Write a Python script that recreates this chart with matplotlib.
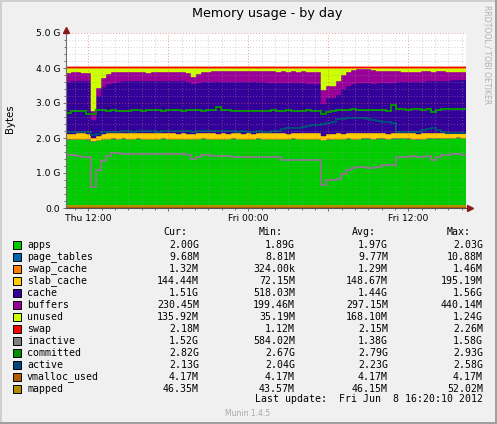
import numpy as np
import pandas as pd
import matplotlib
matplotlib.use("Agg")
import matplotlib.pyplot as plt
import matplotlib.dates as mdates
from matplotlib.ticker import MultipleLocator, FuncFormatter
from matplotlib.patches import Rectangle
from matplotlib.lines import Line2D

W, H = 497, 424

# 80 consolidated samples of 22.5 min, Thu 10:20 -> Fri 16:20 (values in G)
start = pd.Timestamp("2012-06-07 10:20:10")
n_bins = 80

apps = [1.95, 1.96, 1.97, 1.96, 1.95, 1.90, 1.94, 1.96, 1.97, 1.98,
        1.97, 1.98, 1.97, 1.97, 1.98, 1.97, 1.96, 1.97, 1.97, 1.98,
        1.97, 1.97, 1.96, 1.97, 1.97, 1.96, 1.97, 1.98, 1.97, 1.97,
        1.96, 1.97, 1.97, 1.98, 1.97, 1.96, 1.97, 1.97, 1.98, 1.97,
        1.96, 1.97, 1.96, 1.97, 1.97, 1.98, 1.97, 1.96, 1.97, 1.97,
        1.96, 1.93, 1.95, 1.96, 1.97, 1.97, 1.98, 1.97, 1.97, 1.98,
        1.98, 1.97, 1.98, 1.98, 1.97, 1.98, 1.98, 1.99, 1.98, 1.96,
        1.95, 1.97, 1.98, 1.99, 1.98, 1.99, 2.00, 2.00, 2.01, 2.00]
page_tables = [0.0095] * n_bins
swap_cache = [0.0013] * n_bins
slab_cache = [0.15, 0.14, 0.15, 0.16, 0.15, 0.08, 0.12, 0.14, 0.15, 0.15,
              0.15, 0.15, 0.16, 0.15, 0.14, 0.15, 0.16, 0.15, 0.15, 0.14,
              0.15, 0.16, 0.15, 0.15, 0.14, 0.15, 0.15, 0.14, 0.15, 0.16,
              0.15, 0.15, 0.14, 0.15, 0.16, 0.15, 0.15, 0.14, 0.15, 0.15,
              0.16, 0.15, 0.16, 0.15, 0.14, 0.15, 0.15, 0.16, 0.15, 0.15,
              0.16, 0.12, 0.14, 0.15, 0.15, 0.14, 0.15, 0.15, 0.16, 0.15,
              0.15, 0.16, 0.15, 0.15, 0.14, 0.15, 0.16, 0.15, 0.15, 0.17,
              0.16, 0.15, 0.15, 0.14, 0.15, 0.15, 0.14, 0.15, 0.14, 0.14]
cache = [1.49, 1.51, 1.50, 1.50, 1.51, 0.52, 1.13, 1.34, 1.40, 1.44,
         1.48, 1.49, 1.50, 1.49, 1.50, 1.51, 1.49, 1.50, 1.50, 1.49,
         1.50, 1.48, 1.51, 1.49, 1.49, 1.42, 1.45, 1.48, 1.47, 1.47,
         1.48, 1.48, 1.48, 1.47, 1.46, 1.47, 1.47, 1.47, 1.46, 1.46,
         1.45, 1.45, 1.44, 1.44, 1.44, 1.43, 1.43, 1.43, 1.42, 1.42,
         1.42, 0.92, 1.04, 1.03, 1.09, 1.28, 1.34, 1.40, 1.42, 1.42,
         1.42, 1.41, 1.42, 1.43, 1.45, 1.44, 1.45, 1.46, 1.47, 1.47,
         1.48, 1.48, 1.48, 1.48, 1.49, 1.48, 1.49, 1.49, 1.50, 1.51]
buffers = [0.27, 0.26, 0.25, 0.24, 0.24, 0.27, 0.22, 0.27, 0.31, 0.30,
           0.28, 0.26, 0.24, 0.26, 0.26, 0.25, 0.25, 0.25, 0.26, 0.26,
           0.26, 0.26, 0.26, 0.26, 0.26, 0.21, 0.24, 0.27, 0.29, 0.29,
           0.30, 0.30, 0.30, 0.30, 0.32, 0.32, 0.32, 0.32, 0.32, 0.32,
           0.32, 0.32, 0.32, 0.33, 0.33, 0.33, 0.33, 0.34, 0.34, 0.34,
           0.33, 0.40, 0.34, 0.34, 0.40, 0.40, 0.41, 0.41, 0.41, 0.41,
           0.40, 0.39, 0.36, 0.34, 0.34, 0.32, 0.30, 0.28, 0.28, 0.27,
           0.29, 0.29, 0.28, 0.27, 0.27, 0.27, 0.25, 0.24, 0.23, 0.23]
unused = [0.15, 0.14, 0.14, 0.15, 0.16, 1.24, 0.60, 0.30, 0.18, 0.14,
          0.13, 0.13, 0.14, 0.14, 0.13, 0.13, 0.15, 0.14, 0.13, 0.14,
          0.13, 0.14, 0.13, 0.14, 0.15, 0.27, 0.20, 0.14, 0.13, 0.12,
          0.12, 0.11, 0.12, 0.11, 0.10, 0.11, 0.10, 0.11, 0.10, 0.11,
          0.12, 0.12, 0.13, 0.12, 0.13, 0.12, 0.13, 0.12, 0.13, 0.13,
          0.14, 0.64, 0.54, 0.53, 0.40, 0.22, 0.13, 0.08, 0.05, 0.05,
          0.06, 0.08, 0.10, 0.11, 0.11, 0.12, 0.12, 0.13, 0.13, 0.14,
          0.13, 0.12, 0.12, 0.13, 0.12, 0.12, 0.13, 0.13, 0.13, 0.13]
swap = [0.0021] * n_bins
inactive = [1.51, 1.51, 1.50, 1.47, 1.47, 0.59, 1.10, 1.33, 1.50, 1.57,
            1.56, 1.54, 1.53, 1.53, 1.54, 1.53, 1.53, 1.53, 1.54, 1.53,
            1.53, 1.53, 1.53, 1.53, 1.52, 1.40, 1.47, 1.51, 1.51, 1.49,
            1.49, 1.48, 1.48, 1.47, 1.47, 1.47, 1.47, 1.47, 1.47, 1.47,
            1.47, 1.47, 1.47, 1.37, 1.37, 1.37, 1.37, 1.37, 1.38, 1.38,
            1.37, 0.66, 0.80, 0.80, 0.82, 0.98, 1.10, 1.15, 1.18, 1.17,
            1.15, 1.15, 1.16, 1.23, 1.23, 1.23, 1.47, 1.47, 1.47, 1.48,
            1.47, 1.47, 1.48, 1.38, 1.45, 1.51, 1.52, 1.53, 1.53, 1.52]
committed = [2.72, 2.76, 2.77, 2.78, 2.69, 2.68, 2.79, 2.80, 2.78, 2.79,
             2.78, 2.77, 2.78, 2.80, 2.79, 2.78, 2.79, 2.81, 2.79, 2.78,
             2.79, 2.80, 2.79, 2.78, 2.79, 2.80, 2.79, 2.78, 2.79, 2.80,
             2.88, 2.80, 2.79, 2.76, 2.77, 2.76, 2.77, 2.78, 2.76, 2.78,
             2.78, 2.79, 2.78, 2.78, 2.79, 2.78, 2.77, 2.78, 2.79, 2.78,
             2.77, 2.70, 2.74, 2.78, 2.79, 2.79, 2.80, 2.82, 2.81, 2.80,
             2.80, 2.81, 2.80, 2.79, 2.76, 2.93, 2.83, 2.82, 2.81, 2.82,
             2.82, 2.81, 2.82, 2.75, 2.80, 2.82, 2.83, 2.82, 2.82, 2.82]
active = [2.17, 2.18, 2.18, 2.17, 2.16, 2.08, 2.12, 2.16, 2.17, 2.18,
          2.18, 2.19, 2.19, 2.18, 2.19, 2.20, 2.19, 2.19, 2.18, 2.19,
          2.20, 2.19, 2.19, 2.20, 2.19, 2.18, 2.19, 2.19, 2.20, 2.19,
          2.19, 2.20, 2.19, 2.19, 2.18, 2.19, 2.18, 2.18, 2.19, 2.18,
          2.18, 2.19, 2.20, 2.25, 2.28, 2.29, 2.30, 2.31, 2.33, 2.36,
          2.38, 2.40, 2.42, 2.47, 2.53, 2.55, 2.56, 2.57, 2.58, 2.57,
          2.55, 2.52, 2.50, 2.47, 2.45, 2.42, 2.18, 2.17, 2.18, 2.16,
          2.18, 2.22, 2.27, 2.28, 2.22, 2.16, 2.15, 2.14, 2.15, 2.13]
vmalloc_used = [0.0041] * n_bins
mapped = [0.045] * n_bins

names = ["apps", "page_tables", "swap_cache", "slab_cache", "cache", "buffers",
         "unused", "swap", "inactive", "committed", "active", "vmalloc_used", "mapped"]
colors = ["#00CC00", "#0066B3", "#FF8000", "#FFCC00", "#330099", "#990099",
          "#CCFF00", "#FF0000", "#808080", "#008F00", "#00487D", "#B35A00", "#B38F00"]
cur = ["2.00G", "9.68M", "1.32M", "144.44M", "1.51G", "230.45M", "135.92M",
       "2.18M", "1.52G", "2.82G", "2.13G", "4.17M", "46.35M"]
mins = ["1.89G", "8.81M", "324.00k", "72.15M", "518.03M", "199.46M", "35.19M",
        "1.12M", "584.02M", "2.67G", "2.04G", "4.17M", "43.57M"]
avgs = ["1.97G", "9.77M", "1.29M", "148.67M", "1.44G", "297.15M", "168.10M",
        "2.15M", "1.38G", "2.79G", "2.23G", "4.17M", "46.15M"]
maxs = ["2.03G", "10.88M", "1.46M", "195.19M", "1.56G", "440.14M", "1.24G",
        "2.26M", "1.58G", "2.93G", "2.58G", "4.17M", "52.02M"]

edges = mdates.date2num(pd.date_range(start, periods=n_bins + 1, freq="22min30s").to_pydatetime())

fig = plt.figure(figsize=(W / 100, H / 100), dpi=100, facecolor="#F0F0F0")
ax = fig.add_axes([66 / W, 1 - 208 / H, 400 / W, 175 / H])
ax.set_facecolor("white")

# stacked areas
stack = [apps, page_tables, swap_cache, slab_cache, cache, buffers, unused, swap]
base = np.zeros(n_bins)
for vals, col in zip(stack, colors[:8]):
    top = base + np.array(vals)
    lw = 1.0 if col == "#FF0000" else 0.3
    ax.stairs(top, edges, baseline=base, fill=True, facecolor=col, edgecolor=col, linewidth=lw, zorder=1)
    base = top

# lines (LINE2)
for vals, col in zip([inactive, committed, active, vmalloc_used, mapped], colors[8:]):
    ax.stairs(vals, edges, baseline=None, color=col, linewidth=1.45, zorder=2)

ax.set_xlim(edges[0], edges[-1])
ax.set_ylim(0, 5.0)

ax.yaxis.set_major_locator(MultipleLocator(1.0))
ax.yaxis.set_minor_locator(MultipleLocator(0.2))
ax.yaxis.set_major_formatter(FuncFormatter(lambda v, p: "0.0" if v == 0 else f"{v:.1f} G"))
ax.xaxis.set_major_locator(mdates.HourLocator(byhour=[0, 6, 12, 18]))
ax.xaxis.set_minor_locator(mdates.HourLocator())


def xfmt(v, p):
    d = mdates.num2date(v)
    return d.strftime("%a %H:%M") if d.hour in (0, 12) else ""


ax.xaxis.set_major_formatter(FuncFormatter(xfmt))

ax.set_axisbelow(False)
ax.grid(which="minor", color="#9A9A9A", alpha=0.45, linestyle=(0, (1, 2)), linewidth=0.7)
ax.grid(which="major", color="#E05050", alpha=0.6, linestyle=(0, (1, 2)), linewidth=0.7)

for s in ["top", "right"]:
    ax.spines[s].set_visible(False)
ax.spines["left"].set_color("#707070")
ax.spines["bottom"].set_color("#505050")
ax.spines["left"].set_zorder(3)
ax.spines["bottom"].set_zorder(3)
ax.tick_params(which="both", labelsize=6.6, colors="#707070", labelcolor="black", width=0.7)
ax.tick_params(which="major", length=2.5, pad=1.5)
ax.tick_params(which="minor", length=1.5)

# axis arrows
ax.plot([0], [1.02], marker="^", color="#8B1A1A", markersize=4, clip_on=False, transform=ax.transAxes, zorder=5)
ax.plot([1.01], [0], marker=">", color="#8B1A1A", markersize=4, clip_on=False, transform=ax.transAxes, zorder=5)

fig.text(267 / W, 1 - 13 / H, "Memory usage - by day", ha="center", va="center", fontsize=9.2)
fig.text(10 / W, 1 - 119 / H, "Bytes", ha="center", va="center", rotation=90, fontsize=7.3)
fig.text(487 / W, 1 - 5 / H, "RRDTOOL / TOBI OETIKER", ha="center", va="top", rotation=270,
         fontsize=5.6, color="#B0B0B0")

# legend
mono = "DejaVu Sans Mono"
fs = 7.1
hy = 232.5
for label, x in [("Cur:", 163), ("Min:", 259), ("Avg:", 352), ("Max:", 447)]:
    fig.text(x / W, 1 - hy / H, label, ha="left", va="center", family=mono, fontsize=fs)
for k, name in enumerate(names):
    y = 245 + 12 * k
    fig.add_artist(Rectangle((13 / W, 1 - (y + 4) / H), 8 / W, 8 / H, transform=fig.transFigure,
                             facecolor=colors[k], edgecolor="black", linewidth=0.7))
    fig.text(27 / W, 1 - y / H, name, ha="left", va="center", family=mono, fontsize=fs)
    for col_vals, x in [(cur, 199), (mins, 295), (avgs, 388), (maxs, 483)]:
        fig.text(x / W, 1 - y / H, col_vals[k], ha="right", va="center", family=mono, fontsize=fs)
fig.text(483 / W, 1 - 399.5 / H, "Last update:  Fri Jun  8 16:20:10 2012", ha="right", va="center",
         family=mono, fontsize=fs)
fig.text(225 / W, 1 - 413 / H, "Munin 1.4.5", ha="left", va="center", fontsize=5.5, color="#A8A8A8")

# 3d frame
fig.add_artist(Line2D([0, 1], [1 - 0.5 / H, 1 - 0.5 / H], transform=fig.transFigure, color="#CFCFCF", lw=1.4))
fig.add_artist(Line2D([0.5 / W, 0.5 / W], [0, 1], transform=fig.transFigure, color="#CFCFCF", lw=1.4))
fig.add_artist(Line2D([0, 1], [1.0 / H, 1.0 / H], transform=fig.transFigure, color="#9E9E9E", lw=1.4))
fig.add_artist(Line2D([1 - 1.0 / W, 1 - 1.0 / W], [0, 1], transform=fig.transFigure, color="#9E9E9E", lw=1.4))

fig.savefig("out.png", dpi=100, facecolor=fig.get_facecolor())
